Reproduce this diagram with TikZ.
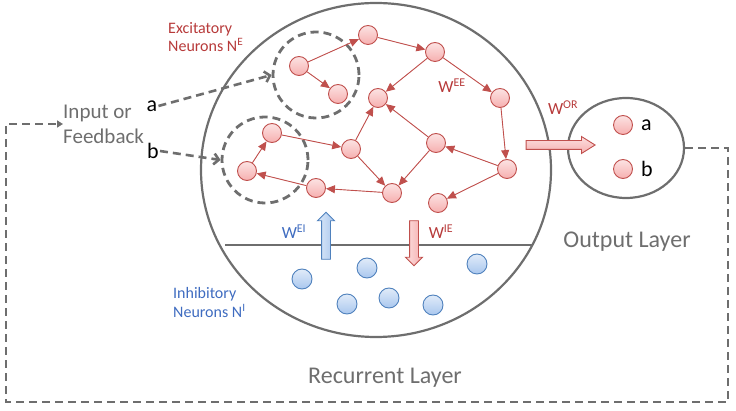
\documentclass[tikz,border=0pt]{standalone}
\usepackage{fontspec}
\setmainfont{Carlito}
\usepackage{tikz}
\usetikzlibrary{arrows.meta,shapes.geometric,shapes.arrows,positioning}

\definecolor{exred}{HTML}{C0504D}
\definecolor{extext}{HTML}{B73A3A}
\definecolor{exfill}{HTML}{F6AFAF}
\definecolor{inblue}{HTML}{4F81BD}
\definecolor{intext}{HTML}{3F6CC0}
\definecolor{infill}{HTML}{A9C7EE}
\definecolor{layergray}{HTML}{6E6E6E}

\begin{document}
\begin{tikzpicture}[x=1pt, y=-1pt,
  exc/.style={circle, draw=exred, line width=0.9pt, top color=exfill!35, bottom color=exfill,
              minimum size=19pt, inner sep=0pt},
  inh/.style={circle, draw=inblue, line width=0.9pt, top color=infill!35, bottom color=infill,
              minimum size=20pt, inner sep=0pt},
  syn/.style={-{Triangle[length=9pt,width=8pt]}, draw=exred, fill=exred, line width=0.9pt},
  grp/.style={circle, draw=layergray, line width=2.8pt, dash pattern=on 8pt off 5pt,
              minimum size=86pt, inner sep=0pt},
  feed/.style={draw=layergray, line width=2.6pt, dash pattern=on 8pt off 5pt},
  layer/.style={ellipse, draw=layergray, line width=2.2pt, inner sep=0pt},
  fat/.style={single arrow, line width=0.9pt, inner sep=4pt, minimum width=16pt,
              single arrow head extend=4pt},
  wlbl/.style={font=\fontsize{17}{20}\selectfont, inner sep=0pt}
]
  \useasboundingbox (0,0) rectangle (736,411);

  % Layers
  \node[layer, minimum width=350pt, minimum height=334pt] (recur) at (376,170) {};
  \node[layer, minimum width=116pt, minimum height=100pt] (outlayer) at (626,148) {};
  \draw[layergray, line width=1.3pt] (225,245) -- (533,245);

  \node[font=\fontsize{24}{28}\selectfont, text=layergray] (recurlbl) at (385,378) {Recurrent Layer};
  \node[font=\fontsize{24}{28}\selectfont, text=layergray] (outlbl) at (627,242) {Output Layer};

  % Input groups
  \node[grp] (grp1) at (316,75) {};
  \node[grp] (grp2) at (265,160) {};

  % Excitatory neurons
  \node[exc] (e1)  at (299,66)  {};
  \node[exc] (e2)  at (338,94)  {};
  \node[exc] (e3)  at (368,35)  {};
  \node[exc] (e4)  at (435,52)  {};
  \node[exc] (e5)  at (378,98)  {};
  \node[exc] (e6)  at (500,98)  {};
  \node[exc] (e7)  at (272,133) {};
  \node[exc] (e8)  at (351,149) {};
  \node[exc] (e9)  at (436,143) {};
  \node[exc] (e10) at (247,171) {};
  \node[exc] (e11) at (316,188) {};
  \node[exc] (e12) at (392,193) {};
  \node[exc] (e13) at (507,169) {};
  \node[exc] (e14) at (438,203) {};

  \foreach \a/\b in {e1/e3, e1/e2, e3/e4, e4/e5, e4/e6, e6/e13, e13/e9, e13/e14,
                     e9/e5, e9/e12, e8/e5, e8/e12, e7/e8, e10/e7, e12/e11, e11/e10}
    \draw[syn] (\a) -- (\b);

  % Inhibitory neurons
  \node[inh] (i1) at (302,279) {};
  \node[inh] (i2) at (367,268) {};
  \node[inh] (i3) at (347,304) {};
  \node[inh] (i4) at (389,298) {};
  \node[inh] (i5) at (433,305) {};
  \node[inh] (i6) at (477,264) {};

  % Output neurons
  \node[exc] (oa) at (623,125) {};
  \node[exc] (ob) at (623,169) {};
  \node[font=\fontsize{22}{26}\selectfont, right=8pt of oa, inner sep=0pt] (oalbl) {a};
  \node[font=\fontsize{22}{26}\selectfont, right=8pt of ob, inner sep=0pt] (oblbl) {b};

  % Weight arrows
  \node[fat, draw=exred, top color=exfill!40, bottom color=exfill, minimum height=69pt,
        single arrow tip angle=64] (wor) at (557,145) {};
  \node[fat, draw=inblue, left color=infill!40, right color=infill, minimum height=47pt,
        single arrow tip angle=90, rotate=90] (wei) at (326,238) {};
  \node[fat, draw=exred, left color=exfill!40, right color=exfill, minimum height=45pt,
        single arrow tip angle=90, rotate=-90] (wie) at (414,241) {};

  \node[wlbl, text=extext] (weelbl) at (452,86)  {W\textsuperscript{EE}};
  \node[wlbl, text=extext] (worlbl) at (563,108) {W\textsuperscript{OR}};
  \node[wlbl, text=intext] (weilbl) at (294,232) {W\textsuperscript{EI}};
  \node[wlbl, text=extext] (wielbl) at (441,232) {W\textsuperscript{IE}};

  % Population labels
  \node[anchor=west, align=left, text=extext, inner sep=0pt,
        font=\fontsize{16}{18}\selectfont] (exclbl) at (168,37)
        {Excitatory\\Neurons N\textsuperscript{E}};
  \node[anchor=west, align=left, text=intext, inner sep=0pt,
        font=\fontsize{16}{19}\selectfont] (inhlbl) at (173,303)
        {Inhibitory\\Neurons N\textsuperscript{I}};

  % Inputs
  \node[anchor=west, align=left, text=layergray, inner sep=0pt,
        font=\fontsize{21}{25}\selectfont] (input) at (63,124) {Input or\\Feedback};
  \node[font=\fontsize{22}{26}\selectfont, inner sep=1pt] (ina) at (152,106) {a};
  \node[font=\fontsize{22}{26}\selectfont, inner sep=1pt] (inb) at (153,151) {b};

  \draw[feed, -{Straight Barb[length=5pt,width=11pt]}] (ina.east) -- (grp1.west);
  \draw[feed, -{Straight Barb[length=5pt,width=11pt]}] (inb.east) -- (grp2.west);

  % Feedback loop
  \draw[feed, -{Triangle[length=6pt,width=7pt]}] (outlayer.east) -| (728,402) -| (6,124) -- (input.west);
\end{tikzpicture}
\end{document}
